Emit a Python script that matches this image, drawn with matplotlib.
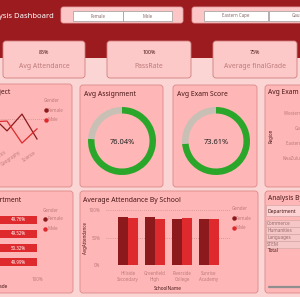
import matplotlib

matplotlib.use("Agg")
import matplotlib.pyplot as plt
from matplotlib.patches import FancyBboxPatch, Rectangle

W, H = 300, 297

# ---- data ----
genders = ["Female", "Male"]
kpi_values = ["85%", "100%", "75%"]
kpi_labels = ["Avg Attendance", "PassRate", "Average finalGrade"]

subjects = ["English", "Mathematics", "Geography", "Science"]
subject_female = [71.0, 65.9, 71.7, 63.1]
subject_male = [69.0, 69.3, 61.7, 66.6]

avg_assignment = 76.04
avg_exam = 73.61

regions = ["Western Cape", "Gauteng", "Eastern Cape", "KwaZulu-Natal"]

departments = ["Commerce", "Humanities", "Languages", "STEM"]
dept_male_pct = [49.76, 49.52, 50.32, 49.99]
dept_female_pct = [100 - v for v in dept_male_pct]

schools = ["Hillside Secondary", "Greenfield High", "Riverside College", "Sunrise Academy"]
school_female = [0.87, 0.87, 0.84, 0.84]
school_male = [0.86, 0.84, 0.86, 0.84]

# ---- colours ----
HEADER = "#9b1b1f"
BG = "#fbd4d4"
PANEL = "#feb6b6"
PANEL_EDGE = "#dc8a8a"
CARD = "#fcc8c8"
DARK = "#8c1a1c"
RED = "#de2a2d"
TITLE = "#4a1818"
MUTED = "#bf7b7b"
GREEN = "#2aa72a"
GREY = "#c8c0b4"

plt.rcParams["font.family"] = ["Noto Sans", "DejaVu Sans"]

fig = plt.figure(figsize=(W / 100, H / 100), dpi=100)
fig.patch.set_facecolor(BG)
base = fig.add_axes([0, 0, 1, 1])
base.set_xlim(0, W)
base.set_ylim(H, 0)
base.axis("off")


def px_axes(x0, y0, x1, y1):
    ax = fig.add_axes([x0 / W, 1 - y1 / H, (x1 - x0) / W, (y1 - y0) / H])
    ax.patch.set_alpha(0)
    return ax


def box(x0, y0, x1, y1, fc, ec, r=3, lw=0.6, z=1):
    p = FancyBboxPatch((x0, y0), x1 - x0, y1 - y0,
                       boxstyle=f"round,pad=0,rounding_size={r}",
                       fc=fc, ec=ec, lw=lw, zorder=z)
    base.add_patch(p)


def clean(ax):
    for s in ax.spines.values():
        s.set_visible(False)
    ax.tick_params(length=0)


def legend(x, y):
    base.text(x, y, "Gender", fontsize=3.3, color=MUTED, va="center")
    for i, (g, c) in enumerate(zip(genders, [DARK, RED])):
        yy = y + 9 + 9.5 * i
        base.plot(x + 2, yy, "o", ms=2.2, color=c, zorder=5)
        base.text(x + 4, yy, g, fontsize=3.3, color=MUTED, va="center")


# header band
base.add_patch(Rectangle((0, 0), W, 58, fc=HEADER, ec="none", zorder=0))
base.text(54, 16, "Student Performance Analysis Dashboard", ha="right", va="center",
          fontsize=5.5, color="white", fontweight="bold")

# slicers
box(61, 7, 183, 23, "#fcc6c6", "#e7a0a0", r=2.5)
for (x0, x1), g in zip([(73, 123), (123, 172)], genders):
    base.add_patch(Rectangle((x0, 11), x1 - x0, 10, fc="white", ec="#9a9a9a", lw=0.5, zorder=2))
    base.text((x0 + x1) / 2, 16, g, ha="center", va="center", fontsize=3.2, color="#8a6a6a", zorder=3)
box(192, 7, 310, 23, "#fcc6c6", "#e7a0a0", r=2.5)
for (x0, x1), reg in zip([(204, 268), (269, 333)], regions[2:0:-1]):
    base.add_patch(Rectangle((x0, 11), x1 - x0, 10, fc="white", ec="#9a9a9a", lw=0.5, zorder=2))
    base.text((x0 + x1) / 2, 16, reg, ha="center", va="center", fontsize=3.2, color="#8a6a6a", zorder=3)

# KPI cards
for (x0, x1), v, lab in zip([(3, 85), (107, 191), (213, 297)], kpi_values, kpi_labels):
    box(x0, 41, x1, 78, CARD, "#d27f7f", r=3, z=2)
    base.text((x0 + x1) / 2, 53, v, ha="center", va="center", fontsize=3.8,
              fontweight="bold", color=TITLE, zorder=3)
    base.text((x0 + x1) / 2, 66, lab, ha="center", va="center", fontsize=4.9,
              color=MUTED, zorder=3)

# panels
for x0, y0, x1, y1 in [(-10, 84, 72, 187), (80, 85, 163, 187), (173, 85, 257, 187),
                       (265, 85, 320, 187), (-10, 191, 73, 293), (80, 191, 258, 293),
                       (265, 191, 320, 293)]:
    box(x0, y0, x1, y1, PANEL, PANEL_EDGE, r=3)

# --- line chart: score by subject ---
base.text(10, 92, "Avg Score By Subject", ha="right", va="center", fontsize=4.8,
          fontweight="bold", color=TITLE)
ax = px_axes(-15.5, 101.6, 44.5, 148)
ax.plot(range(4), subject_female, color=DARK, lw=0.9)
ax.plot(range(4), subject_male, color=RED, lw=0.9)
ax.set_xlim(-0.5, 3.5)
ax.set_ylim(60, 76)
ax.set_yticks([60, 70])
ax.set_yticklabels([])
ax.grid(axis="y", ls=(0, (1, 2)), color="#b88080", lw=0.5)
ax.set_xticks(range(4))
ax.set_xticklabels(subjects, rotation=35, ha="right", fontsize=3.2, color=MUTED)
ax.tick_params(axis="x", pad=1)
clean(ax)
legend(44, 101)

# --- donuts ---
for (cx, title_x), val, ttl in [((122, 84), avg_assignment, "Avg Assignment"),
                                ((216, 177), avg_exam, "Avg Exam Score")]:
    base.text(title_x, 94, ttl, ha="left", va="center", fontsize=4.9,
              fontweight="bold", color=TITLE)
    ax = px_axes(cx - 34, 107, cx + 34, 175)
    ax.pie([val, 100 - val], colors=[GREEN, GREY], startangle=90, counterclock=False,
           radius=1, wedgeprops=dict(width=6.5 / 34, linewidth=0))
    ax.set_xlim(-1, 1)
    ax.set_ylim(-1, 1)
    ax.text(0, -0.03, f"{val:.2f}%", ha="center", va="center", fontsize=5.4,
            fontweight="bold", color="#222222")

# --- region panel (cut off) ---
base.text(268, 93, "Avg Exam Score By Region", ha="left", va="center", fontsize=4.8,
          fontweight="bold", color=TITLE)
base.text(271, 136, "Region", rotation=90, ha="center", va="center", fontsize=3.2,
          fontweight="bold", color=TITLE)
for i, reg in enumerate(regions):
    base.text(313, 114 + 14.7 * i, reg, ha="right", va="center", fontsize=3.2, color=MUTED)

# --- 100% stacked bars by department ---
base.text(21, 200, "Gender Split By Department", ha="right", va="center", fontsize=4.8,
          fontweight="bold", color=TITLE)
ax = px_axes(-37, 212, 37, 270)
pos = range(len(departments))
ax.barh(pos, dept_female_pct, height=0.57, color=DARK)
ax.barh(pos, dept_male_pct, left=dept_female_pct, height=0.57, color=RED)
for i in pos:
    ax.text(dept_female_pct[i] / 2, i, f"{dept_female_pct[i]:.2f}%", ha="center",
            va="center", fontsize=3.2, color="white")
    ax.text(dept_female_pct[i] + dept_male_pct[i] / 2, i, f"{dept_male_pct[i]:.2f}%",
            ha="center", va="center", fontsize=3.2, color="white")
ax.set_xlim(0, 100)
ax.set_ylim(3.57, -0.57)
ax.set_yticks([])
ax.set_xticks([0, 100])
ax.set_xticklabels(["0%", "100%"], fontsize=3.2, color=MUTED)
ax.tick_params(axis="x", pad=5)
clean(ax)
base.text(8, 287, "finalGrade", ha="right", va="center", fontsize=3.4,
          fontweight="bold", color=TITLE)
legend(43, 210)

# --- attendance by school ---
base.text(83, 200, "Average Attendance By School", ha="left", va="center", fontsize=4.9,
          fontweight="bold", color=TITLE)
ax = px_axes(106, 210, 231, 265)
idx = range(len(schools))
ax.bar([i - 0.19 for i in idx], school_female, width=0.375, color=DARK, zorder=2)
ax.bar([i + 0.19 for i in idx], school_male, width=0.375, color=RED, zorder=2)
ax.set_xlim(-0.82, 3.82)
ax.set_ylim(0, 1)
ax.set_yticks([0, 0.5, 1])
ax.set_yticklabels(["0%", "50%", "100%"], fontsize=3.2, color=MUTED)
ax.grid(axis="y", ls=(0, (1, 2)), color="#b88080", lw=0.5, zorder=0)
ax.set_xticks(list(idx))
ax.set_xticklabels([s.replace(" ", "\n", 1) for s in schools], fontsize=3.2,
                   color=MUTED, linespacing=1.4)
ax.tick_params(axis="x", pad=4)
ax.tick_params(axis="y", pad=4)
clean(ax)
base.text(85, 238, "AvgAttendance", rotation=90, ha="center", va="center", fontsize=3.2,
          fontweight="bold", color=TITLE)
base.text(168, 288, "SchoolName", ha="center", va="center", fontsize=3.4,
          fontweight="bold", color=TITLE)
legend(232, 209)

# --- table ---
base.text(268, 199, "Analysis By Department", ha="left", va="center", fontsize=4.8,
          fontweight="bold", color=TITLE)
base.add_patch(Rectangle((266, 205), 40, 11, fc="#fdd2d2", ec="#d6a6a6", lw=0.5, zorder=2))
base.text(268, 211, "Department", ha="left", va="center", fontsize=3.6,
          fontweight="bold", color=TITLE, zorder=3)
for i, d in enumerate(departments):
    y0 = 219.5 + 7 * i
    base.add_patch(Rectangle((266, y0), 40, 7, fc="#f5c7c7", ec="#d0a4a4", lw=0.4, zorder=2))
    base.text(267, y0 + 3.6, d, ha="left", va="center", fontsize=3.3, color="#9a6a6a", zorder=3)
base.text(268, 251, "Total", ha="left", va="center", fontsize=3.3,
          fontweight="bold", color=TITLE)
base.plot([269, 300], [287, 287], color="#8f8f8f", lw=1.6, solid_capstyle="round")

fig.savefig("out.png", dpi=100, facecolor=BG)
